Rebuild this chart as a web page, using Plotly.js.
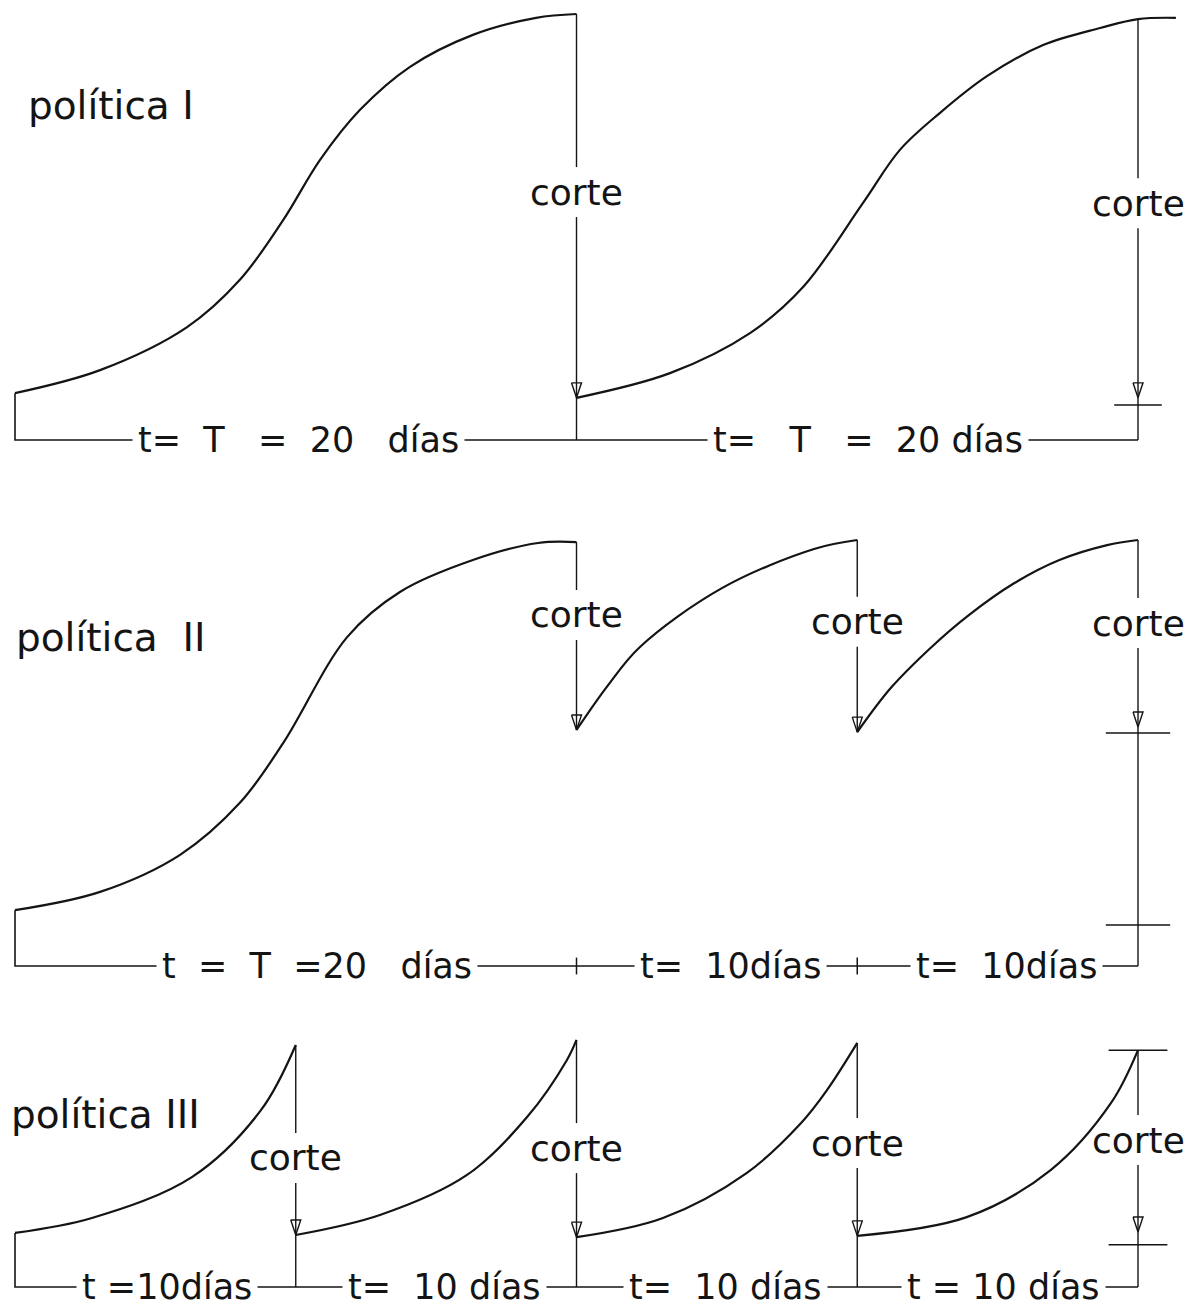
<!DOCTYPE html>
<html>
<head>
<meta charset="utf-8">
<script src="https://cdn.plot.ly/plotly-3.0.1.min.js"></script>
<style>
html,body{margin:0;padding:0;background:#ffffff;}
#chart{width:1204px;height:1315px;}
</style>
</head>
<body>
<div id="chart"></div>
<script>
// ================= DATA (days vs. plant height, arbitrary units: max = 100) =================
const policyTitles = ['política I', 'política  II', 'política III'];
const cutText = 'corte';

// ---- política I : one cut every 20 days ----
const p1CurveA_days   = [0, 3.03, 6.13, 8.01, 9.55, 10.86, 12.29, 14.07, 16.31, 18.56, 20];
const p1CurveA_height = [11.0, 16.4, 26.5, 37.6, 51.6, 65.7, 77.5, 87.6, 95.1, 99.1, 100];
const p1CurveB_days   = [20, 23.33, 26.18, 28.07, 30.2, 31.52, 32.95, 34.62, 36.62, 38.65, 40, 41.35];
const p1CurveB_height = [9.9, 15.7, 25.1, 35.9, 55.6, 68.1, 76.8, 85.4, 92.7, 96.7, 98.8, 99.1];
const p1CutDays     = [20, 40];
const p1CutTop      = [100, 98.8];
const p1CutRegrowth = [9.9, 9.9];
const p1CutToBase   = [true, true];
const p1TickDays    = [40];
const p1TickHeight  = [8.2];
const p1IntervalLabels = ['t=  T   =  20   días', 't=   T   =  20 días'];

// ---- política II : first cut at 20 days, then every 10 days ----
const p2Curve1_days   = [0, 3.03, 5.88, 8.01, 9.55, 11.83, 13.71, 16.31, 18.63, 20];
const p2Curve1_height = [13.1, 17.4, 26.1, 38.3, 52.3, 77.2, 87.8, 95.3, 99.3, 99.5];
const p2Curve2_days   = [20, 21.1, 22.26, 25.18, 28.46, 30];
const p2Curve2_height = [55.4, 65.7, 74.9, 88.7, 97.9, 100];
const p2Curve3_days   = [30, 31.2, 32.6, 33.94, 35.6, 37.2, 38.9, 40];
const p2Curve3_height = [54.9, 65.3, 74.6, 82.2, 89.9, 95.3, 98.8, 100];
const p2CutDays     = [20, 30, 40];
const p2CutTop      = [99.5, 100, 100];
const p2CutRegrowth = [55.4, 54.9, 56.1];
const p2CutToBase   = [false, false, true];
const p2TickDays    = [40, 40];
const p2TickHeight  = [54.7, 9.6];
const p2BaseTickDays = [20, 30];
const p2IntervalLabels = ['t  =  T  =20   días', 't=  10días', 't=  10días'];

// ---- política III : a cut every 10 days ----
const p3Curve1_days   = [0, 2.74, 6.3, 8.76, 10];
const p3Curve1_height = [12.7, 16.2, 25.8, 41.5, 56.8];
const p3Curve2_days   = [10, 13.0, 16.1, 18.24, 19.66, 20];
const p3Curve2_height = [12.2, 16.9, 26.3, 39.9, 53.3, 58.0];
const p3Curve3_days   = [20, 23.08, 26.07, 28.0, 28.92, 30];
const p3Curve3_height = [11.7, 16.2, 26.8, 38.5, 46.2, 57.3];
const p3Curve4_days   = [30, 33.9, 36.9, 39.04, 40];
const p3Curve4_height = [12.0, 16.4, 27.5, 43.2, 55.6];
const p3CutDays     = [10, 20, 30, 40];
const p3CutTop      = [56.8, 58.0, 57.3, 55.6];
const p3CutRegrowth = [12.2, 11.7, 12.0, 12.9];
const p3CutToBase   = [true, true, true, true];
const p3TickDays    = [40, 40];
const p3TickHeight  = [55.6, 9.9];
const p3IntervalLabels = ['t =10días', 't=  10 días', 't=  10 días', 't = 10 días'];

// ================= LAYOUT / STYLE =================
const INK = '#141414';
const FONT = 'DejaVu Sans, Liberation Sans, Arial, sans-serif';
const W = 1204, H = 1315;
const K = 4.26;               // pixels per height unit
const PX_PER_DAY = 28.075;
const X0 = 15;                // pixel of day 0
const panels = [
  {top: 0,    bottom: 475,  base: 440},
  {top: 475,  bottom: 1005, base: 966},
  {top: 1005, bottom: 1315, base: 1287}
];
// placement of texts (layout only)
const titlePos = [{x: 0.4, y: 78.6}, {x: -0.05, y: 77.0}, {x: -0.2, y: 40.4}];
const cutLabelY = [[58.2, 55.6], [82.4, 80.8, 80.5], [30.3, 32.6, 33.8, 34.5]];
const intervalLabelX = [[10.1, 30.4], [10.75, 25.5, 35.3], [5.4, 15.3, 25.3, 35.2]];
const GAP = 25 / K;                 // half gap of the cut line around "corte"
const ARROW_W = 5 / PX_PER_DAY;     // arrowhead half width
const ARROW_H = 15 / K;             // arrowhead length

const nb = s => s.replace(/ /g, '\u00a0');
const yNames = ['y', 'y2', 'y3'];
const traces = [];
const annotations = [];

function lineTrace(x, y, yax, width, spline) {
  return {
    x: x, y: y, xaxis: 'x', yaxis: yax, mode: 'lines',
    line: {color: INK, width: width, shape: spline ? 'spline' : 'linear', smoothing: 1},
    hoverinfo: 'skip', connectgaps: false
  };
}

const policies = [
  {curves: [[p1CurveA_days, p1CurveA_height], [p1CurveB_days, p1CurveB_height]],
   cuts: {d: p1CutDays, top: p1CutTop, tip: p1CutRegrowth, toBase: p1CutToBase},
   ticks: {d: p1TickDays, h: p1TickHeight}, baseTicks: [], labels: p1IntervalLabels, tickSize: 34},
  {curves: [[p2Curve1_days, p2Curve1_height], [p2Curve2_days, p2Curve2_height], [p2Curve3_days, p2Curve3_height]],
   cuts: {d: p2CutDays, top: p2CutTop, tip: p2CutRegrowth, toBase: p2CutToBase},
   ticks: {d: p2TickDays, h: p2TickHeight}, baseTicks: p2BaseTickDays, labels: p2IntervalLabels, tickSize: 46},
  {curves: [[p3Curve1_days, p3Curve1_height], [p3Curve2_days, p3Curve2_height], [p3Curve3_days, p3Curve3_height], [p3Curve4_days, p3Curve4_height]],
   cuts: {d: p3CutDays, top: p3CutTop, tip: p3CutRegrowth, toBase: p3CutToBase},
   ticks: {d: p3TickDays, h: p3TickHeight}, baseTicks: [], labels: p3IntervalLabels, tickSize: 42}
];

policies.forEach((P, pi) => {
  const yax = yNames[pi];
  const first = P.curves[0];
  const lastDay = P.cuts.d[P.cuts.d.length - 1];
  // baseline with left edge
  traces.push(lineTrace([first[0][0], first[0][0], lastDay], [first[1][0], 0, 0], yax, 1.6, false));
  // growth curves
  P.curves.forEach(c => traces.push(lineTrace(c[0], c[1], yax, 2.2, true)));
  // cut lines, broken around the word "corte", with open arrowheads
  P.cuts.d.forEach((d, i) => {
    const L = cutLabelY[pi][i];
    const tip = P.cuts.tip[i];
    const end = P.cuts.toBase[i] ? 0 : tip;
    traces.push(lineTrace([d, d, null, d, d], [P.cuts.top[i], L + GAP, null, L - GAP, end], yax, 1.4, false));
    traces.push(lineTrace([d - ARROW_W, d, d + ARROW_W, d - ARROW_W],
                          [tip + ARROW_H, tip, tip + ARROW_H, tip + ARROW_H], yax, 1.4, false));
    annotations.push({
      x: d, y: L, xref: 'x', yref: yax, text: cutText, showarrow: false,
      font: {family: FONT, size: 36, color: INK}, xanchor: 'center', yanchor: 'middle'
    });
  });
  // small horizontal ticks on the last cut line
  traces.push({
    x: P.ticks.d, y: P.ticks.h, xaxis: 'x', yaxis: yax, mode: 'markers', hoverinfo: 'skip',
    marker: {symbol: 'line-ew', size: P.tickSize, color: INK, line: {color: INK, width: 1.5}}
  });
  if (P.baseTicks.length) {
    traces.push({
      x: P.baseTicks, y: P.baseTicks.map(() => 0), xaxis: 'x', yaxis: yax, mode: 'markers', hoverinfo: 'skip',
      marker: {symbol: 'line-ns', size: 12, color: INK, line: {color: INK, width: 1.5}}
    });
  }
  // interval labels sitting on the baseline
  P.labels.forEach((t, i) => {
    annotations.push({
      x: intervalLabelX[pi][i], y: 0, xref: 'x', yref: yax, text: nb(t), showarrow: false,
      font: {family: FONT, size: 35, color: INK}, bgcolor: '#ffffff', borderpad: 5,
      xanchor: 'center', yanchor: 'middle'
    });
  });
  // panel title
  annotations.push({
    x: titlePos[pi].x, y: titlePos[pi].y, xref: 'x', yref: yax, text: nb(policyTitles[pi]), showarrow: false,
    font: {family: FONT, size: 39, color: INK}, xanchor: 'left', yanchor: 'middle'
  });
});

const axisBase = {visible: false, showgrid: false, zeroline: false, showticklabels: false, fixedrange: true};
const layout = {
  width: W, height: H, margin: {l: 0, r: 0, t: 0, b: 0, pad: 0},
  paper_bgcolor: '#ffffff', plot_bgcolor: 'rgba(0,0,0,0)', showlegend: false,
  xaxis: Object.assign({}, axisBase, {domain: [0, 1], range: [-X0 / PX_PER_DAY, (W - X0) / PX_PER_DAY], anchor: 'y'}),
  annotations: annotations
};
panels.forEach((p, i) => {
  const key = i === 0 ? 'yaxis' : 'yaxis' + (i + 1);
  layout[key] = Object.assign({}, axisBase, {
    domain: [1 - p.bottom / H, 1 - p.top / H],
    range: [-(p.bottom - p.base) / K, (p.base - p.top) / K],
    anchor: 'x'
  });
});

Plotly.newPlot('chart', traces, layout, {staticPlot: true, displayModeBar: false});
</script>
</body>
</html>
